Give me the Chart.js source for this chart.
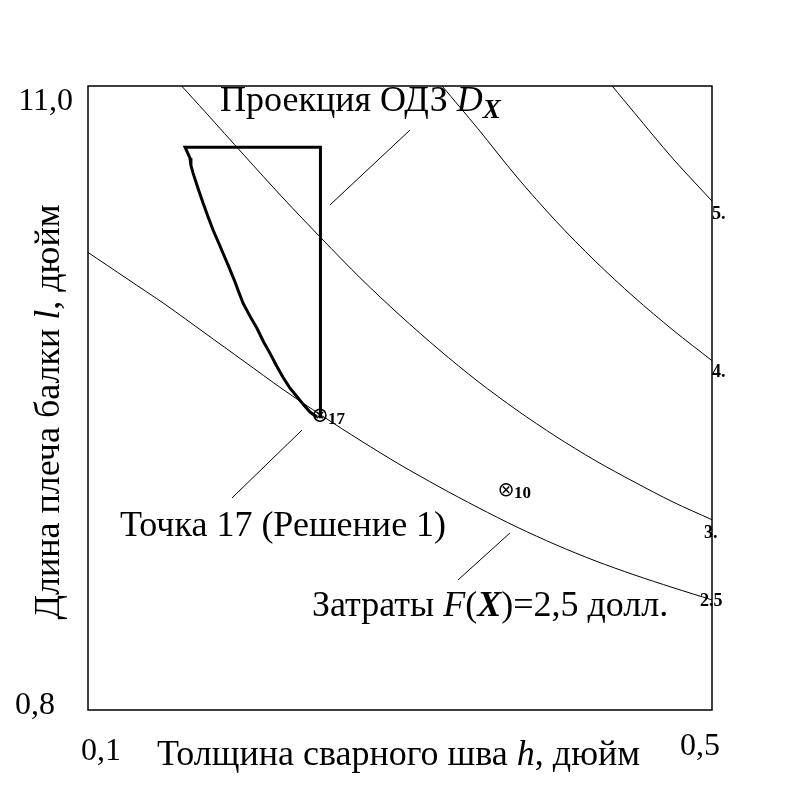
<!DOCTYPE html>
<html><head><meta charset="utf-8">
<script src="https://cdn.jsdelivr.net/npm/chart.js@4"></script>
<style>html,body{margin:0;padding:0;background:#fff}</style>
</head><body>
<canvas id="c" width="800" height="800"></canvas>
<script>
// ---- data ----
const xMin = 0.1, xMax = 0.5, yMin = 0.8, yMax = 11.0;
const xTickValues = [0.1, 0.5];
const xTickLabels = ['0,1', '0,5'];
const yTickValues = [0.8, 11.0];
const yTickLabels = ['0,8', '11,0'];

const contourLabels = ['2.5', '3.', '4.', '5.'];
const c25H = [0.1, 0.125, 0.15, 0.175, 0.2, 0.225, 0.25, 0.275, 0.3, 0.325, 0.35, 0.375, 0.4, 0.425, 0.45, 0.475, 0.5];
const c25L = [8.28, 7.85, 7.42, 6.96, 6.50, 6.04, 5.61, 5.20, 4.81, 4.45, 4.11, 3.79, 3.50, 3.24, 3.01, 2.80, 2.60];
const c3H = [0.160, 0.175, 0.2, 0.225, 0.25, 0.275, 0.3, 0.325, 0.35, 0.375, 0.4, 0.425, 0.45, 0.475, 0.5];
const c3L = [11.0, 10.58, 9.87, 9.17, 8.50, 7.85, 7.25, 6.69, 6.17, 5.70, 5.27, 4.88, 4.53, 4.20, 3.91];
const c4H = [0.327, 0.35, 0.375, 0.4, 0.425, 0.45, 0.475, 0.5];
const c4L = [11.0, 10.30, 9.51, 8.79, 8.14, 7.55, 7.01, 6.51];
const c5H = [0.436, 0.45, 0.475, 0.5];
const c5L = [11.0, 10.57, 9.81, 9.12];

// feasible region projection (closed outline, stepped left edge)
const regionH = [0.249, 0.249, 0.1622, 0.1654, 0.1660, 0.1673, 0.1705, 0.1737, 0.1770, 0.1801, 0.1835, 0.1865, 0.1905, 0.1942, 0.1965, 0.1994, 0.2040, 0.2083, 0.2125, 0.2167, 0.2210, 0.2250, 0.2295, 0.2340, 0.2385, 0.2423, 0.2468];
const regionL = [5.57, 10.0, 10.0, 9.82, 9.70, 9.58, 9.33, 9.09, 8.86, 8.65, 8.45, 8.27, 8.03, 7.80, 7.64, 7.45, 7.23, 7.04, 6.82, 6.63, 6.42, 6.24, 6.06, 5.92, 5.78, 5.67, 5.59];

// solution points
const pointNames = ['17', '10'];
const pointH = [0.2487, 0.3680];
const pointL = [5.62, 4.40];

// leader lines of the annotations
const leaderRegionH = [0.2551, 0.3064], leaderRegionL = [9.055, 10.28];
const leader17H = [0.2372, 0.1923], leader17L = [5.377, 4.266];
const leaderCostH = [0.3705, 0.3372], leaderCostL = [3.694, 2.926];

function pts(hs, ls) { return hs.map((h, i) => ({ x: h, y: ls[i] })); }

const thin = { type: 'scatter', showLine: true, borderColor: '#000', borderWidth: 1, pointRadius: 0, fill: false, tension: 0.3 };
const datasets = [
  { type: 'scatter', label: 'ptsx', data: pts(pointH, pointL), pointStyle: 'crossRot', pointRadius: 4.5, borderColor: '#000', borderWidth: 1.5 },
  { type: 'scatter', label: 'pts', data: pts(pointH, pointL), pointStyle: 'circle', pointRadius: 6, borderColor: '#000', borderWidth: 1.5, backgroundColor: 'rgba(255,255,255,0)' },
  Object.assign({}, thin, { label: 'F=2.5', data: pts(c25H, c25L), contour: 0 }),
  Object.assign({}, thin, { label: 'F=3', data: pts(c3H, c3L), contour: 1 }),
  Object.assign({}, thin, { label: 'F=4', data: pts(c4H, c4L), contour: 2 }),
  Object.assign({}, thin, { label: 'F=5', data: pts(c5H, c5L), contour: 3 }),
  { type: 'scatter', showLine: true, label: 'region', data: pts(regionH, regionL), borderColor: '#000', borderWidth: 3, pointRadius: 0, tension: 0 },
  Object.assign({}, thin, { label: 'lead1', data: pts(leaderRegionH, leaderRegionL), tension: 0 }),
  Object.assign({}, thin, { label: 'lead2', data: pts(leader17H, leader17L), tension: 0 }),
  Object.assign({}, thin, { label: 'lead3', data: pts(leaderCostH, leaderCostL), tension: 0 })
];

const SERIF = '"Liberation Serif", "DejaVu Serif", serif';
function f(size, style) { return (style || '') + ' ' + size + 'px ' + SERIF; }

function runsWidth(ctx, runs) {
  let w = 0;
  runs.forEach(r => { ctx.font = r.font; w += ctx.measureText(r.t).width; });
  return w;
}
function drawRuns(ctx, runs, x, y) {
  runs.forEach(r => {
    ctx.font = r.font;
    ctx.fillText(r.t, x, y + (r.dy || 0));
    x += ctx.measureText(r.t).width;
  });
}

const textPlugin = {
  id: 'texts',
  afterDraw(chart) {
    const ctx = chart.ctx, a = chart.chartArea;
    const xs = chart.scales.x, ys = chart.scales.y;
    ctx.save();
    // frame
    ctx.strokeStyle = '#000';
    ctx.lineWidth = 1.5;
    ctx.strokeRect(a.left, a.top, a.right - a.left, a.bottom - a.top);

    ctx.fillStyle = '#000';
    ctx.textBaseline = 'middle';
    // y tick labels
    ctx.font = f(32);
    ctx.textAlign = 'right';
    ctx.fillText(yTickLabels[1], a.left - 15, ys.getPixelForValue(yTickValues[1]) + 16);
    ctx.fillText(yTickLabels[0], a.left - 33, ys.getPixelForValue(yTickValues[0]) - 4);
    // x tick labels
    ctx.textAlign = 'center';
    ctx.fillText(xTickLabels[0], xs.getPixelForValue(xTickValues[0]) + 13, a.bottom + 42);
    ctx.fillText(xTickLabels[1], xs.getPixelForValue(xTickValues[1]) - 12, a.bottom + 37);

    ctx.textAlign = 'left';
    const S = 36;
    // x title
    const xt = [{ t: 'Толщина сварного шва ', font: f(S) }, { t: 'h', font: f(S, 'italic') }, { t: ', дюйм', font: f(S) }];
    drawRuns(ctx, xt, 157, a.bottom + 46);
    // y title
    const yt = [{ t: 'Длина плеча балки ', font: f(S) }, { t: 'l', font: f(S, 'italic') }, { t: ', дюйм', font: f(S) }];
    ctx.save();
    ctx.translate(50, 412);
    ctx.rotate(-Math.PI / 2);
    drawRuns(ctx, yt, -runsWidth(ctx, yt) / 2, 0);
    ctx.restore();

    // annotations
    drawRuns(ctx, [{ t: 'Проекция ОДЗ ', font: f(S) }, { t: 'D', font: f(S, 'italic') }, { t: 'X', font: f(27, 'italic bold'), dy: 9 }], 220, 102);
    drawRuns(ctx, [{ t: 'Точка 17 (Решение 1)', font: f(S) }], 120, 527);
    drawRuns(ctx, [{ t: 'Затраты ', font: f(S) }, { t: 'F', font: f(S, 'italic') }, { t: '(', font: f(S) }, { t: 'X', font: f(S, 'italic bold') }, { t: ')=2,5 долл.', font: f(S) }], 312, 607);

    // contour level labels at curve ends
    ctx.font = f(18, 'bold');
    const lblDx = [-12, -8, 0, 0];
    const lblDy = [1, 14, 12, 13];
    chart.data.datasets.forEach((ds) => {
      if (ds.contour === undefined) return;
      const last = ds.data[ds.data.length - 1];
      const px = xs.getPixelForValue(last.x), py = ys.getPixelForValue(last.y);
      const k = ds.contour;
      ctx.fillText(contourLabels[k], px + lblDx[k], py + lblDy[k]);
    });
    // point labels
    ctx.font = f(17, 'bold');
    pointNames.forEach((n, i) => {
      ctx.fillText(n, xs.getPixelForValue(pointH[i]) + 8, ys.getPixelForValue(pointL[i]) + 4);
    });
    ctx.restore();
  }
};

new Chart(document.getElementById('c'), {
  data: { datasets },
  options: {
    responsive: false, animation: false, devicePixelRatio: 1,
    layout: { padding: { left: 88, top: 86, right: 88, bottom: 90 } },
    scales: {
      x: { type: 'linear', min: xMin, max: xMax, display: false },
      y: { type: 'linear', min: yMin, max: yMax, display: false }
    },
    plugins: { legend: { display: false }, tooltip: { enabled: false } }
  },
  plugins: [textPlugin]
});
</script>
</body></html>
